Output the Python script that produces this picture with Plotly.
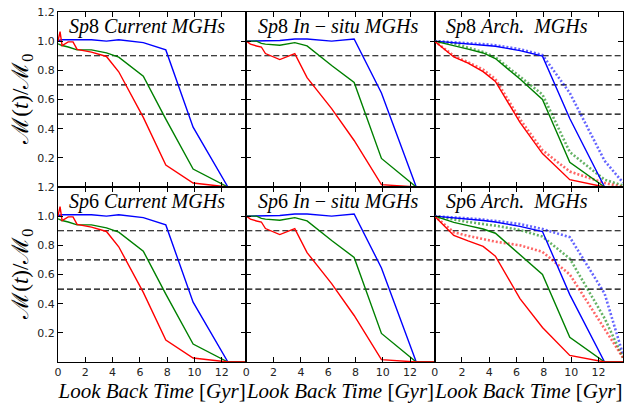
import plotly.graph_objects as go

# Look-back time grids (Gyr)
t_grid = [0, 0.15, 0.3, 0.75, 1.1, 1.4, 2.45, 3.55, 4.45, 6.25, 7.9, 9.9, 12.45, 13.8]
t_arch = [0, 1.4, 2.45, 3.55, 4.45, 6.25, 7.9, 9.9, 12.45, 13.8]

# Current MGHs (same for Sp8 and Sp6)
cur_blue = [1.005, 1.01, 1.01, 1.01, 1.01, 1.01, 1.01, 1.0, 1.01, 0.99, 0.94, 0.41, 0.0, 0.0]
cur_green = [0.982, 0.975, 0.97, 0.96, 0.95, 0.94, 0.94, 0.92, 0.89, 0.76, 0.465, 0.123, 0.0, 0.0]
cur_red = [1.0, 1.065, 0.97, 0.995, 0.995, 0.944, 0.925, 0.895, 0.79, 0.477, 0.15, 0.027, 0.0, 0.0]

# In-situ MGHs (same for Sp8 and Sp6)
ins_blue = [1.0, 1.0, 1.0, 1.0, 1.0, 1.0, 1.005, 1.015, 1.015, 1.0, 1.015, 0.645, 0.0, 0.0]
ins_green = [1.0, 1.0, 1.0, 1.0, 0.985, 0.98, 0.972, 0.99, 0.968, 0.833, 0.717, 0.196, 0.0, 0.0]
ins_red = [1.0, 0.99, 0.98, 0.967, 0.96, 0.915, 0.874, 0.915, 0.75, 0.537, 0.319, 0.016, 0.0, 0.0]

# Archaeological MGHs, Sp8 (solid and dotted)
sp8_arch_blue = [1.0, 0.99, 0.983, 0.975, 0.965, 0.935, 0.897, 0.47, 0.0, 0.0]
sp8_arch_blue_dot = [1.0, 0.993, 0.987, 0.98, 0.972, 0.945, 0.905, 0.645, 0.18, 0.03]
sp8_arch_green = [1.0, 0.971, 0.945, 0.919, 0.881, 0.74, 0.6, 0.17, 0.0, 0.0]
sp8_arch_green_dot = [1.0, 0.985, 0.955, 0.926, 0.89, 0.757, 0.634, 0.24, 0.05, 0.01]
sp8_arch_red = [1.0, 0.892, 0.85, 0.791, 0.724, 0.443, 0.229, 0.05, 0.0, 0.0]
sp8_arch_red_dot = [1.0, 0.9, 0.855, 0.805, 0.74, 0.465, 0.252, 0.106, 0.027, 0.0]

# Archaeological MGHs, Sp6 (solid and dotted)
sp6_arch_blue = [1.0, 0.99, 0.98, 0.97, 0.96, 0.93, 0.895, 0.462, 0.0, 0.0]
sp6_arch_blue_dot = [1.0, 0.993, 0.985, 0.977, 0.968, 0.946, 0.912, 0.856, 0.47, 0.05]
sp6_arch_green = [1.0, 0.957, 0.935, 0.912, 0.883, 0.737, 0.601, 0.169, 0.0, 0.0]
sp6_arch_green_dot = [1.0, 0.975, 0.96, 0.946, 0.935, 0.905, 0.86, 0.709, 0.3, 0.03]
sp6_arch_red = [1.0, 0.868, 0.83, 0.793, 0.726, 0.435, 0.237, 0.045, 0.0, 0.0]
sp6_arch_red_dot = [1.0, 0.89, 0.865, 0.845, 0.825, 0.8, 0.755, 0.6, 0.23, 0.03]

ref_levels = [0.9, 0.7, 0.5]
x_ticks = [0, 2, 4, 6, 8, 10, 12]
y_ticks = [0.2, 0.4, 0.6, 0.8, 1.0, 1.2]
y_ticklabels = ["0.2", "0.4", "0.6", "0.8", "1.0", "1.2"]

panel_titles = [
    ["<i>Sp</i>8 <i>Current MGHs</i>", "<i>Sp</i>8 <i>In</i> − <i>situ MGHs</i>", "<i>Sp</i>8 <i>Arch.  MGHs</i>"],
    ["<i>Sp</i>6 <i>Current MGHs</i>", "<i>Sp</i>6 <i>In</i> − <i>situ MGHs</i>", "<i>Sp</i>6 <i>Arch.  MGHs</i>"],
]

BLUE, GREEN, RED = "#0000ff", "#008000", "#ff0000"
SERIF = "Liberation Serif"

panels = [
    [
        [(t_grid, cur_blue, BLUE, False), (t_grid, cur_green, GREEN, False), (t_grid, cur_red, RED, False)],
        [(t_grid, ins_blue, BLUE, False), (t_grid, ins_green, GREEN, False), (t_grid, ins_red, RED, False)],
        [(t_arch, sp8_arch_blue_dot, BLUE, True), (t_arch, sp8_arch_green_dot, GREEN, True),
         (t_arch, sp8_arch_red_dot, RED, True),
         (t_arch, sp8_arch_blue, BLUE, False), (t_arch, sp8_arch_green, GREEN, False),
         (t_arch, sp8_arch_red, RED, False)],
    ],
    [
        [(t_grid, cur_blue, BLUE, False), (t_grid, cur_green, GREEN, False), (t_grid, cur_red, RED, False)],
        [(t_grid, ins_blue, BLUE, False), (t_grid, ins_green, GREEN, False), (t_grid, ins_red, RED, False)],
        [(t_arch, sp6_arch_blue_dot, BLUE, True), (t_arch, sp6_arch_green_dot, GREEN, True),
         (t_arch, sp6_arch_red_dot, RED, True),
         (t_arch, sp6_arch_blue, BLUE, False), (t_arch, sp6_arch_green, GREEN, False),
         (t_arch, sp6_arch_red, RED, False)],
    ],
]

fig = go.Figure()
layout = dict(
    width=639, height=403,
    margin=dict(l=58, r=16, t=6, b=41),
    paper_bgcolor="white", plot_bgcolor="white",
    showlegend=False,
    annotations=[], shapes=[],
)

x_edges = [0, 1 / 3, 2 / 3, 1]
y_edges = [[0.5, 1.0], [0.0, 0.5]]
t_max = 13.8

for r in range(2):
    for c in range(3):
        idx = r * 3 + c + 1
        xa = "xaxis" if idx == 1 else f"xaxis{idx}"
        ya = "yaxis" if idx == 1 else f"yaxis{idx}"
        xr = "x" if idx == 1 else f"x{idx}"
        yr = "y" if idx == 1 else f"y{idx}"

        layout[xa] = dict(
            domain=[x_edges[c], x_edges[c + 1]], range=[0, t_max], anchor=yr,
            tickmode="array", tickvals=x_ticks,
            showticklabels=(r == 1),
            ticks="inside", ticklen=5, tickwidth=1.1, tickcolor="black",
            showline=True, linecolor="black", linewidth=1.0, mirror="ticks",
            showgrid=False, zeroline=False,
            tickfont=dict(family="DejaVu Sans", size=11, color="#222"),
        )
        if r == 1:
            layout[xa]["title"] = dict(
                text="<i>Look Back Time</i> [<i>Gyr</i>]",
                font=dict(family=SERIF, size=21, color="black"),
                standoff=2,
            )
        layout[ya] = dict(
            domain=y_edges[r], range=[0, 1.2], anchor=xr,
            tickmode="array", tickvals=y_ticks, ticktext=y_ticklabels,
            showticklabels=(c == 0),
            ticks="inside", ticklen=5, tickwidth=1.1, tickcolor="black",
            showline=True, linecolor="black", linewidth=1.0, mirror="ticks",
            showgrid=False, zeroline=False,
            tickfont=dict(family="DejaVu Sans", size=11, color="#222"),
        )

        for lvl in ref_levels:
            fig.add_trace(go.Scatter(
                x=[0, t_max], y=[lvl, lvl], mode="lines", xaxis=xr, yaxis=yr,
                line=dict(color="black", width=1.2, dash="6px,3px"), hoverinfo="skip",
            ))

        for tx, ty, col, dotted in panels[r][c]:
            if dotted:
                line = dict(color=col, width=2.6, dash="2px,2px")
                op = 0.6
            else:
                line = dict(color=col, width=1.4)
                op = 1.0
            fig.add_trace(go.Scatter(x=tx, y=ty, mode="lines", xaxis=xr, yaxis=yr,
                                     line=line, opacity=op))

        layout["annotations"].append(dict(
            text=panel_titles[r][c], xref=f"{xr} domain", yref=f"{yr} domain",
            x=0.05, y=0.915, xanchor="left", yanchor="middle", showarrow=False,
            font=dict(family=SERIF, size=20, color="black"),
        ))

    # row y-axis label
    layout["annotations"].append(dict(
        text="ℳ(<i>t</i>)/ℳ<sub>0</sub>", xref="paper", yref="paper",
        x=-0.065, y=(y_edges[r][0] + y_edges[r][1]) / 2, xanchor="center", yanchor="middle",
        textangle=-90, showarrow=False,
        font=dict(family=SERIF, size=23, color="black"),
    ))

fig.update_layout(**layout)
fig.write_html("out.html")
